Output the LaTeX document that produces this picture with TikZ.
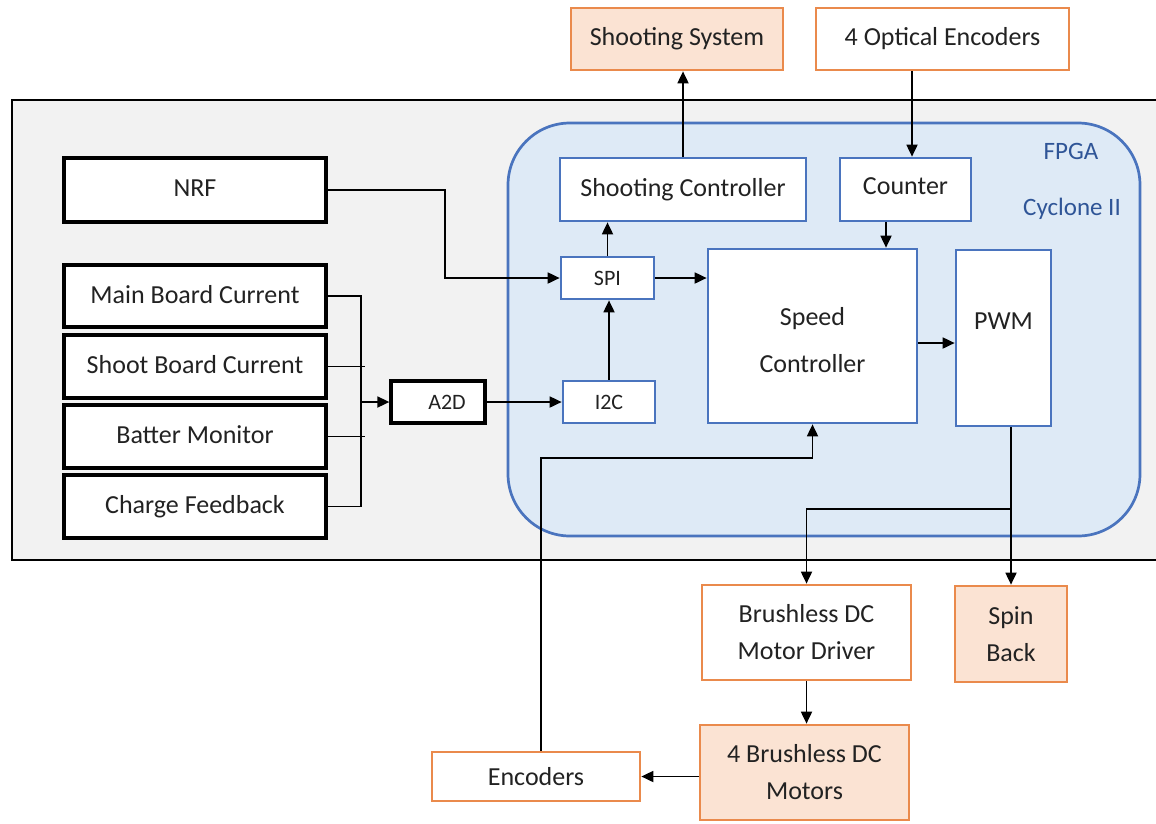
\documentclass[tikz,border=0pt]{standalone}
\usepackage{fontspec}
\setmainfont{Carlito}
\usetikzlibrary{arrows.meta}
\definecolor{greyfill}{HTML}{F2F2F2}
\definecolor{fpgafill}{HTML}{DEEAF6}
\definecolor{fpgaline}{HTML}{4A74BE}
\definecolor{orangeline}{HTML}{EA8A4C}
\definecolor{peach}{HTML}{FBE3D3}
\definecolor{txt}{HTML}{222222}
\definecolor{labelblue}{HTML}{2F5597}
\tikzset{
  base/.style={rectangle, inner sep=0pt, align=center, text=txt, font=\fontsize{26}{37}\selectfont},
  blackbox/.style={base, draw=black, line width=3.3pt, fill=white},
  bluebox/.style={base, draw=fpgaline, line width=2.7pt, fill=white},
  orangebox/.style={base, draw=orangeline, line width=2.7pt, fill=white},
  peachbox/.style={base, draw=orangeline, line width=2.7pt, fill=peach},
  small/.style={font=\fontsize{22}{24}\selectfont},
  arr/.style={line width=1.8pt, draw=black, -{Triangle[length=12pt,width=11pt]}},
  wire/.style={line width=1.8pt, draw=black},
}
\begin{document}
\begin{tikzpicture}[x=1pt,y=-1pt]
\useasboundingbox[fill=white] (0,0) rectangle (1156,823);
% containers
\draw[line width=2.8pt, fill=greyfill] (12,100) rectangle (1170,560);
\draw[line width=2.7pt, draw=fpgaline, fill=fpgafill, rounded corners=62pt] (508,123) rectangle (1140,536);
\node[text=labelblue, font=\fontsize{25}{28}\selectfont] (fpgalabel) at (1071,151) {FPGA};
\node[text=labelblue, font=\fontsize{25}{28}\selectfont] (cyclabel) at (1072,209) {Cyclone II};
% outside boxes
\node[peachbox, minimum width=212, minimum height=62] (shootsys) at (677,39) {Shooting System};
\node[orangebox, minimum width=253, minimum height=62] (optenc) at (942.5,39) {4 Optical Encoders};
% left boxes
\node[blackbox, minimum width=262, minimum height=64] (nrf) at (195,190) {\raisebox{4pt}{NRF}};
\node[blackbox, minimum width=262, minimum height=62] (mbc) at (195,296) {\raisebox{4pt}{Main Board Current}};
\node[blackbox, minimum width=262, minimum height=63] (sbc) at (195,366.5) {\raisebox{4pt}{Shoot Board Current}};
\node[blackbox, minimum width=262, minimum height=63] (bat) at (195,436.5) {\raisebox{4pt}{Batter Monitor}};
\node[blackbox, minimum width=262, minimum height=63] (chg) at (195,506.5) {\raisebox{3pt}{Charge Feedback}};
\node[blackbox, small, minimum width=94, minimum height=42, text width=94, align=center] (a2d) at (438,402) {\hspace*{18pt}A2D};
% FPGA boxes
\node[bluebox, minimum width=246, minimum height=63] (shc) at (683,189.5) {\raisebox{4pt}{Shooting Controller}};
\node[bluebox, minimum width=131, minimum height=63] (cnt) at (905.5,189.5) {\raisebox{6pt}{Counter}};
\node[bluebox, small, minimum width=93, minimum height=42] (spi) at (607.5,278) {SPI};
\node[bluebox, small, minimum width=92, minimum height=42] (i2c) at (609,402) {I2C};
\node[bluebox, minimum width=209, minimum height=174] (spd) at (812.5,336) {};
\node[base] (spdtext) at (812.5,340) {Speed\\[10pt]Controller};
\node[bluebox, minimum width=95, minimum height=176] (pwm) at (1003.5,338) {\raisebox{33pt}{PWM}};
% bottom boxes
\node[orangebox, minimum width=209, minimum height=95] (drv) at (806.5,632.5) {Brushless DC\\Motor Driver};
\node[peachbox, minimum width=112, minimum height=96] (spin) at (1011,634) {Spin\\Back};
\node[peachbox, minimum width=209, minimum height=95] (mot) at (804.5,772.5) {4 Brushless DC\\Motors};
\node[orangebox, minimum width=208, minimum height=49] (enc) at (536,776.5) {Encoders};
% helper coordinates
\coordinate (x912) at (912,0);
\coordinate (x886) at (886,0);
\coordinate (x445) at (445,0);
\coordinate (xbus) at (361,0);
\coordinate (xtick) at (365,0);
\coordinate (y343) at (0,343);
\coordinate (e1) at (541,458);
\coordinate (y509) at (0,509);
% connectors
\draw[arr] (shc.north) -- (shc.north |- shootsys.south);
\draw[arr] (optenc.south -| x912) -- (cnt.north -| x912);
\draw[arr] (cnt.south -| x886) -- (spd.north -| x886);
\draw[arr] (nrf.east) -- (nrf.east -| x445) -- (spi.west -| x445) -- (spi.west);
\draw[arr] (spi.north) -- (spi.north |- shc.south);
\draw[arr] (spi.east) -- (spi.east -| spd.west);
\draw[arr] (i2c.north) -- (i2c.north |- spi.south);
\draw[arr] (a2d.east) -- (a2d.east -| i2c.west);
\draw[arr] (spd.east |- y343) -- (pwm.west |- y343);
\draw[wire] (mbc.east) -- (mbc.east -| xbus) -- (chg.east -| xbus) -- (chg.east);
\draw[wire] (sbc.east) -- (sbc.east -| xtick);
\draw[wire] (bat.east) -- (bat.east -| xtick);
\draw[arr] (a2d.west -| xbus) -- (a2d.west);
\draw[arr] (enc.north -| e1) -- (e1) -- (e1 -| spd.south) -- (spd.south);
\draw[arr] (spin.north |- pwm.south) -- (spin.north);
\draw[arr] (spin.north |- y509) -- (drv.north |- y509) -- (drv.north);
\draw[arr] (drv.south) -- (drv.south |- mot.north);
\draw[arr] (mot.west |- enc.east) -- (enc.east);
\end{tikzpicture}
\end{document}
